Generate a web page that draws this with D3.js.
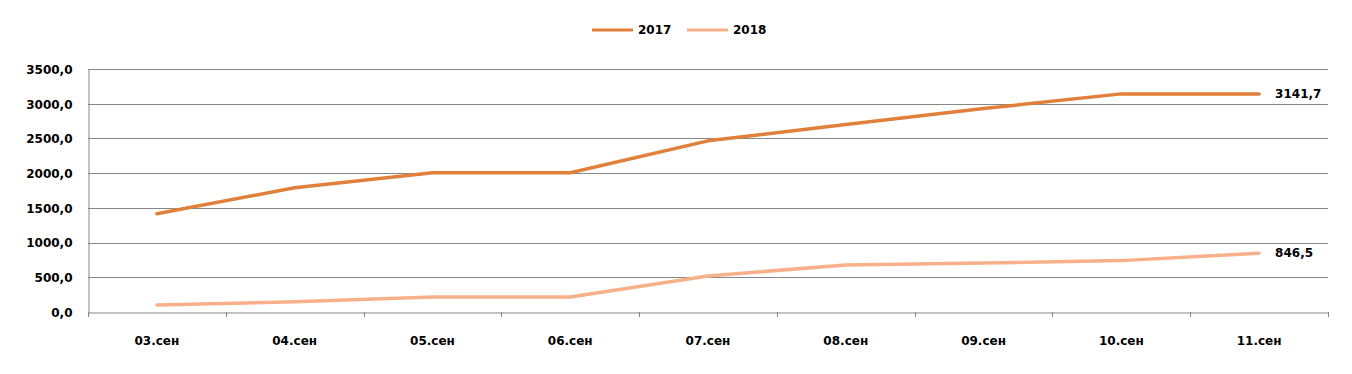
<!DOCTYPE html>
<html>
<head>
<meta charset="utf-8">
<script src="https://cdn.jsdelivr.net/npm/d3@7"></script>
<style>
  body { margin: 0; background: #fff; }
  text { font-family: "DejaVu Sans", Verdana, sans-serif; font-weight: bold; fill: #000; }
</style>
</head>
<body>
<div id="chart"></div>
<script>
const categories = ['03.сен', '04.сен', '05.сен', '06.сен', '07.сен', '08.сен', '09.сен', '10.сен', '11.сен'];
const series2017 = [1415, 1790, 2005, 2005, 2465, 2700, 2930, 3141.7, 3141.7];
const series2018 = [100, 148, 216, 216, 520, 677, 705, 740, 846.5];
const yTicks = [0, 500, 1000, 1500, 2000, 2500, 3000, 3500];

const series = [
  { name: '2017', values: series2017, color: '#E0803A' },
  { name: '2018', values: series2018, color: '#F8B08A' }
];

const width = 1352, height = 374;
const margin = { top: 69, right: 24, bottom: 62, left: 88 };
const fontSize = '12px';

const svg = d3.select('#chart').append('svg')
  .attr('width', width)
  .attr('height', height);

const x = d3.scaleBand()
  .domain(categories)
  .range([margin.left, width - margin.right]);

const y = d3.scaleLinear()
  .domain([0, 3500])
  .range([height - margin.bottom, margin.top]);

const fmt = v => d3.format('.1f')(v).replace('.', ',');

// grid lines
svg.append('g')
  .selectAll('line')
  .data(yTicks.slice(1))
  .join('line')
  .attr('x1', margin.left)
  .attr('x2', width - margin.right)
  .attr('y1', d => Math.round(y(d)) + 0.5)
  .attr('y2', d => Math.round(y(d)) + 0.5)
  .attr('stroke', '#878787')
  .attr('stroke-width', 1);

// y axis
const yAxis = svg.append('g')
  .attr('transform', `translate(${margin.left + 0.5},0.5)`)
  .call(d3.axisLeft(y).tickValues(yTicks).tickFormat(fmt).tickSize(0).tickPadding(16));
yAxis.select('.domain').attr('stroke', '#878787');
yAxis.selectAll('text').style('font-size', fontSize).attr('font-family', null);

// x axis
const xAxis = svg.append('g')
  .attr('transform', `translate(0,${Math.round(y(0)) + 0.5})`)
  .call(d3.axisBottom(x).tickSize(0).tickPadding(24));
xAxis.select('.domain').attr('stroke', '#878787');
xAxis.selectAll('text').style('font-size', fontSize).attr('font-family', null);

// tick marks between categories
svg.append('g')
  .selectAll('line')
  .data(categories.concat(['end']))
  .join('line')
  .attr('x1', (d, i) => Math.round(margin.left + i * x.step()) + 0.5)
  .attr('x2', (d, i) => Math.round(margin.left + i * x.step()) + 0.5)
  .attr('y1', Math.round(y(0)))
  .attr('y2', Math.round(y(0)) + 5)
  .attr('stroke', '#878787');

// lines
const line = d3.line()
  .x((d, i) => x(categories[i]) + x.bandwidth() / 2)
  .y(d => y(d));

svg.append('g')
  .selectAll('path')
  .data(series)
  .join('path')
  .attr('d', s => line(s.values))
  .attr('fill', 'none')
  .attr('stroke', s => s.color)
  .attr('stroke-width', 3.5)
  .attr('stroke-linecap', 'round')
  .attr('stroke-linejoin', 'round');

// end labels
svg.append('g')
  .selectAll('text')
  .data(series)
  .join('text')
  .attr('x', x(categories[categories.length - 1]) + x.bandwidth() / 2 + 16)
  .attr('y', s => y(s.values[s.values.length - 1]))
  .attr('dy', '0.35em')
  .style('font-size', fontSize)
  .text(s => fmt(s.values[s.values.length - 1]));

// legend
const legend = svg.append('g')
  .selectAll('g')
  .data(series)
  .join('g')
  .attr('transform', (d, i) => `translate(${592 + i * 95},30)`);

legend.append('line')
  .attr('x1', 0).attr('x2', 41)
  .attr('stroke', d => d.color)
  .attr('stroke-width', 3);

legend.append('text')
  .attr('x', 46)
  .attr('dy', '0.35em')
  .style('font-size', fontSize)
  .text(d => d.name);
</script>
</body>
</html>
